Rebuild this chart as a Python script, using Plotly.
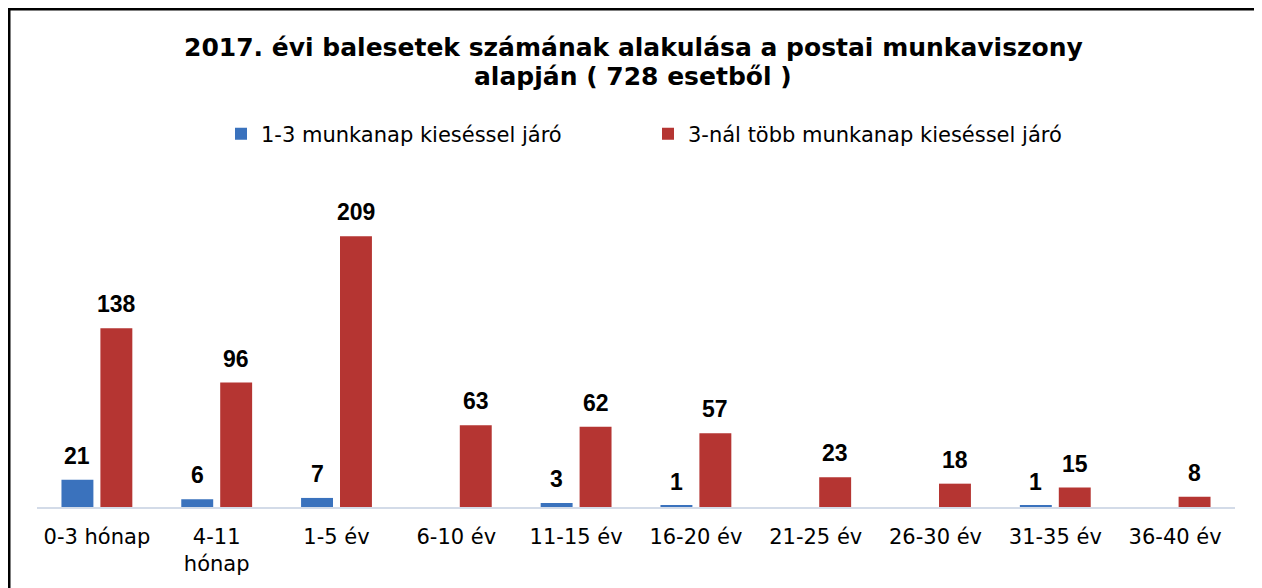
import plotly.graph_objects as go

categories = ["0-3 hónap", "4-11<br>hónap", "1-5 év", "6-10 év", "11-15 év",
              "16-20 év", "21-25 év", "26-30 év", "31-35 év", "36-40 év"]
short_series = [21, 6, 7, 0, 3, 1, 0, 0, 1, 0]
long_series = [138, 96, 209, 63, 62, 57, 23, 18, 15, 8]
series_names = ["1-3 munkanap kieséssel járó", "3-nál több munkanap kieséssel járó"]
title_lines = ["2017. évi balesetek számának alakulása a postai munkaviszony",
               "alapján ( 728 esetből )"]

FONT = "Liberation Sans, Arial, sans-serif"
WFONT = "DejaVu Sans, Liberation Sans, sans-serif"
BLUE = "#3a72bd"
RED = "#b53532"

W, H = 1262, 588
L, R, T, B = 29, 35, 175, 89
pw = W - L - R
ph = H - T - B

def px_x(p):
    return (p - L) / pw

def px_y(p):
    return (H - B - p) / ph

BARGAP = 0.35
slot = (1 - BARGAP) * pw / len(categories) / 2

fig = go.Figure()
fig.add_trace(go.Bar(x=categories, y=short_series, name=series_names[0],
                     marker=dict(color=BLUE, line=dict(width=0))))
fig.add_trace(go.Bar(x=categories, y=long_series, name=series_names[1],
                     marker=dict(color=RED, line=dict(width=0))))

annotations = []
for series, shift in ((short_series, -slot / 2), (long_series, slot / 2)):
    for cat, v in zip(categories, series):
        if not v:
            continue
        annotations.append(dict(
            x=cat, y=v, xref="x", yref="y", text=str(v), showarrow=False,
            xshift=shift, yshift=24, yanchor="middle",
            font=dict(family=FONT, size=23, color="#000000", weight="bold")))

for i, (line, py) in enumerate(zip(title_lines, (40, 68))):
    annotations.append(dict(
        x=px_x(625), y=px_y(py), xref="paper", yref="paper", text=line,
        showarrow=False, xanchor="center", yanchor="middle",
        font=dict(family=WFONT, size=25, color="#000000", weight="bold")))

fig.update_layout(
    width=W, height=H,
    margin=dict(l=L, r=R, t=T, b=B, pad=0),
    paper_bgcolor="white", plot_bgcolor="white",
    barmode="group", bargap=BARGAP, bargroupgap=0.18,
    showlegend=True,
    legend=dict(orientation="h", x=px_x(227 - 14), xanchor="left", y=px_y(126), yanchor="middle",
                font=dict(family=WFONT, size=21, color="#000000"),
                entrywidth=382, entrywidthmode="pixels", traceorder="normal"),
    xaxis=dict(showline=True, linecolor="#d3dbe8", linewidth=1.5, ticks="",
               tickfont=dict(family=WFONT, size=21, color="#000000"),
               ticklabelstandoff=10, showgrid=False, fixedrange=True),
    yaxis=dict(range=[0, 250], visible=False, showgrid=False, zeroline=False),
    annotations=annotations,
    shapes=[
        dict(type="line", xref="paper", yref="paper",
             x0=px_x(1), x1=px_x(1), y0=px_y(700), y1=px_y(0),
             line=dict(color="#000000", width=3)),
        dict(type="line", xref="paper", yref="paper",
             x0=px_x(0), x1=px_x(1300), y0=px_y(1), y1=px_y(1),
             line=dict(color="#000000", width=3)),
    ],
)

fig.write_html("out.html")
